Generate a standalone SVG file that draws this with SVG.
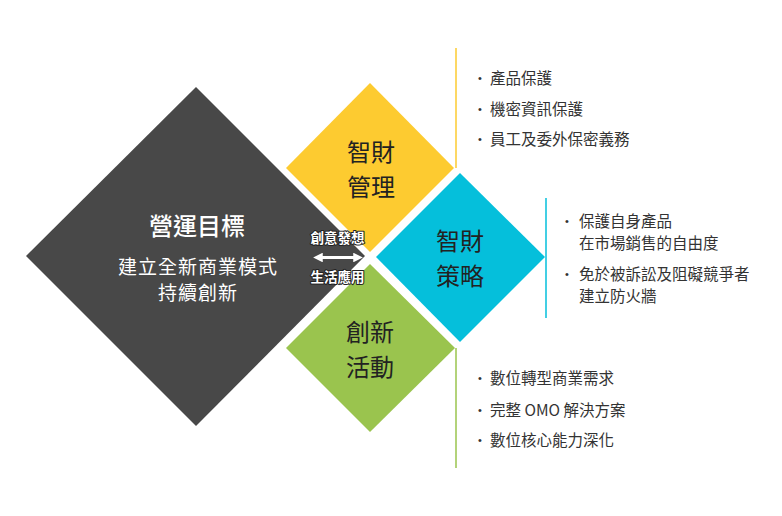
<svg xmlns="http://www.w3.org/2000/svg" width="782" height="516" viewBox="0 0 782 516">
<style>
.t{font-family:"Noto Sans CJK TC","Noto Sans",sans-serif}
.big{font-size:24px;fill:#222;text-anchor:middle}
.li{font-size:15.5px;fill:#333}
.bu{font-size:11px;fill:#333;font-family:"Liberation Sans",sans-serif}
.sub{font-size:19px;fill:#fff;text-anchor:middle;letter-spacing:1px}
.lab{font-size:13.5px;font-weight:bold;fill:#fff;stroke:#222;stroke-width:2px;paint-order:stroke;stroke-linejoin:round;text-anchor:middle}
</style>
<defs>
<marker id="ah" viewBox="0 0 10 10" refX="7" refY="5" markerWidth="3.2" markerHeight="3.2" orient="auto-start-reverse" markerUnits="strokeWidth">
<path d="M0,0 L10,5 L0,10 Z" fill="#fff"/>
</marker>
</defs>
<rect width="782" height="516" fill="#fff"/>
<g id="goal">
<polygon points="196,87 365,256 196,426 26,256" fill="#484848"/>
<text class="t" x="197" y="235" font-size="24" font-weight="500" fill="#fff" text-anchor="middle">營運目標</text>
<text class="t sub" x="198" y="274">建立全新商業模式</text>
<text class="t sub" x="198" y="300">持續創新</text>
</g>
<g id="ip-management">
<polygon points="370,83 454,168 370,252 286,168" fill="#FDCB30"/>
<text class="t big" x="371" y="161">智財</text>
<text class="t big" x="371" y="196">管理</text>
</g>
<g id="ip-strategy">
<polygon points="460,173 545,257 460,342 376,257" fill="#05BFDB"/>
<text class="t big" x="460" y="250">智財</text>
<text class="t big" x="460" y="285">策略</text>
</g>
<g id="innovation">
<polygon points="370,264 455,348 370,432 286,348" fill="#9AC44E"/>
<text class="t big" x="370" y="341">創新</text>
<text class="t big" x="370" y="376">活動</text>
</g>
<g id="connectors">
<line x1="316" y1="257.5" x2="360" y2="257.5" stroke="#fff" stroke-width="3" marker-start="url(#ah)" marker-end="url(#ah)"/>
<line x1="456" y1="48" x2="456" y2="168" stroke="#FDCB30" stroke-width="1.5"/>
<line x1="546" y1="198" x2="546" y2="318" stroke="#05BFDB" stroke-width="1.5"/>
<line x1="456" y1="348" x2="456" y2="468" stroke="#9AC44E" stroke-width="1.5"/>
</g>
<g id="arrow-labels">
<text class="t lab" x="337.5" y="243">創意發想</text>
<text class="t lab" x="337.5" y="282">生活應用</text>
</g>
<g id="list-management">
<text class="bu" x="478" y="82">•</text><text class="t li" x="490" y="84">產品保護</text>
<text class="bu" x="478" y="113">•</text><text class="t li" x="490" y="115">機密資訊保護</text>
<text class="bu" x="478" y="143">•</text><text class="t li" x="490" y="145">員工及委外保密義務</text>
</g>
<g id="list-strategy">
<text class="bu" x="565" y="225">•</text><text class="t li" x="579" y="227">保護自身產品</text>
<text class="t li" x="579" y="249">在市場銷售的自由度</text>
<text class="bu" x="565" y="278">•</text><text class="t li" x="579" y="280">免於被訴訟及阻礙競爭者</text>
<text class="t li" x="579" y="302">建立防火牆</text>
</g>
<g id="list-innovation">
<text class="bu" x="478" y="382">•</text><text class="t li" x="490" y="384">數位轉型商業需求</text>
<text class="bu" x="478" y="414">•</text><text class="t li" x="490" y="416">完整 OMO 解決方案</text>
<text class="bu" x="478" y="444">•</text><text class="t li" x="490" y="446">數位核心能力深化</text>
</g>
</svg>
